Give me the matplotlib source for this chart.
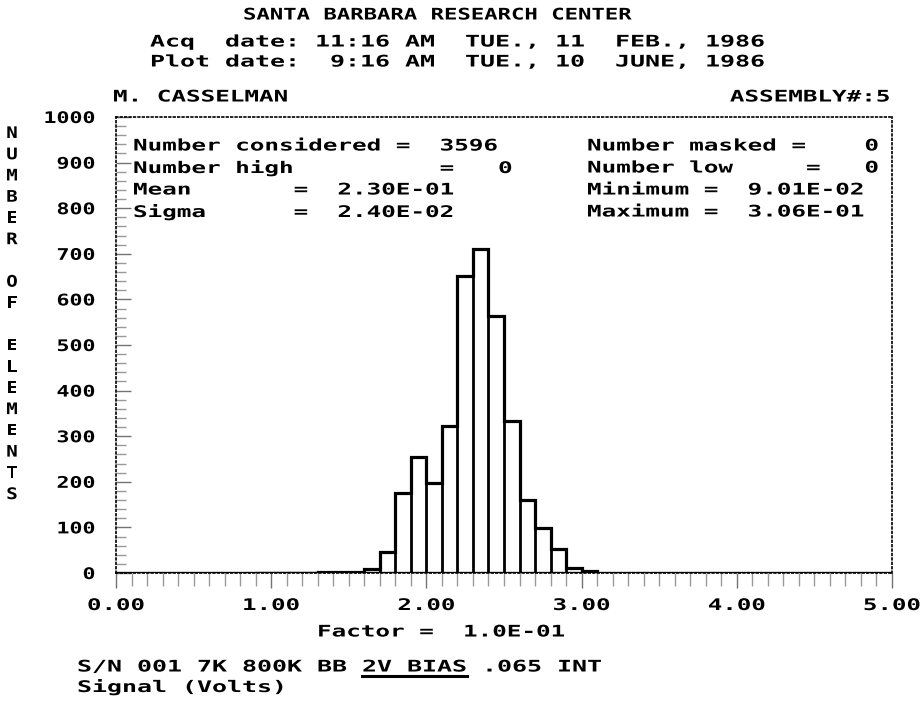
"""
SBRC detector histogram - number of elements vs signal
"""
import numpy as np
import matplotlib
matplotlib.use('Agg')
import matplotlib.pyplot as plt
from matplotlib.lines import Line2D
from matplotlib.patheffects import AbstractPathEffect
from matplotlib.transforms import Affine2D

# ---- data ----
bin_edges = np.round(np.arange(0.9, 3.15, 0.1), 1)          # factor units (x 0.1 V)
counts = [1, 1, 1, 1, 2, 2, 3, 8,                             # 0.9 .. 1.6
          45, 175, 254, 197, 322, 652, 710, 563,             # 1.7 .. 2.4
          333, 160, 98, 52, 12, 4]                           # 2.5 .. 3.0

x_ticks = [0.0, 1.0, 2.0, 3.0, 4.0, 5.0]
y_ticks = [0, 100, 200, 300, 400, 500, 600, 700, 800, 900, 1000]
y_ticklabels = ['0', '100', '200', '300', '400', '500', '600', '700', '800', '900', '1000']

title_lines = ['SANTA BARBARA RESEARCH CENTER',
               'Acq  date: 11:16 AM  TUE., 11  FEB., 1986',
               'Plot date:  9:16 AM  TUE., 10  JUNE, 1986']
stats_left = ['Number considered =  3596',
              'Number high          =   0',
              'Mean       =  2.30E-01',
              'Sigma      =  2.40E-02']
stats_right = ['Number masked =    0',
               'Number low     =   0',
               'Minimum =  9.01E-02',
               'Maximum =  3.06E-01']
ylabel_letters = 'NUMBER OF ELEMENTS'
sn_line = 'S/N 001 7K 800K BB 2V BIAS .065 INT'

W, H = 922, 704
FS = 11.5
EM = FS * 100 / 72
ADV = 0.602 * EM   # DejaVu Sans Mono advance


class Stretch(AbstractPathEffect):
    """widen glyphs horizontally, like the old plotter font"""
    def __init__(self, sx, anchor='left'):
        super().__init__()
        self.sx = sx
        self.anchor = anchor

    def draw_path(self, renderer, gc, tpath, affine, rgbFace=None):
        ext = tpath.get_extents()
        pivot = {'left': 0.0, 'center': (ext.x0 + ext.x1) / 2, 'right': ext.x1}[self.anchor]
        st = Affine2D().translate(-pivot, 0).scale(self.sx, 1).translate(pivot, 0)
        renderer.draw_path(gc, tpath, st + affine, rgbFace)


plt.rcParams['font.family'] = ['DejaVu Sans Mono']
plt.rcParams['font.weight'] = 'bold'

fig = plt.figure(figsize=(W / 100, H / 100), dpi=100)


def put(x, y, s, pitch=14.6, ha='left', size=FS, **kw):
    t = fig.text(x / W, 1 - y / H, s, ha=ha, va='center', fontsize=size, **kw)
    t.set_path_effects([Stretch(pitch / (0.602 * size * 100 / 72), ha)])
    return t


ax = fig.add_axes([116 / W, 1 - 573 / H, (892 - 116) / W, (573 - 117) / H])

# histogram outline
ax.stairs(counts, bin_edges, baseline=0, color='black', lw=2.3, fill=False)
ax.vlines(bin_edges[1:-1], 0, np.minimum(counts[:-1], counts[1:]), colors='black', lw=2.0)
ax.axhline(0, color='black', lw=2.4)

ax.set_xlim(0, 5)
ax.set_ylim(0, 1000)

for sp in ax.spines.values():
    sp.set_linestyle(':')
    sp.set_linewidth(1.2)

ax.set_xticks(x_ticks)
ax.set_xticklabels(['%.2f' % v for v in x_ticks])
ax.set_xticks(np.arange(0, 5.01, 0.1), minor=True)
ax.set_yticks(y_ticks)
ax.set_yticklabels(y_ticklabels)
ax.set_yticks(np.arange(0, 1001, 20), minor=True)

ax.tick_params(axis='x', which='major', direction='out', length=11, width=1.0,
               color='0.45', pad=7, labelsize=FS)
ax.tick_params(axis='x', which='minor', direction='out', length=9, width=1.0, color='0.6')
ax.tick_params(axis='y', which='major', direction='in', length=11, width=1.0,
               color='0.45', pad=15, labelsize=FS)
ax.tick_params(axis='y', which='minor', direction='in', length=7, width=1.0, color='0.6')

for lab in ax.get_xticklabels():
    lab.set_path_effects([Stretch(14.5 / ADV, 'center')])
for lab in ax.get_yticklabels():
    lab.set_path_effects([Stretch(13.0 / ADV, 'right')])

# header
put(243, 15, title_lines[0], pitch=13.4)
put(150, 42, title_lines[1], pitch=15.0)
put(150, 62, title_lines[2], pitch=15.0)
put(113, 97, 'M. CASSELMAN')
put(890, 97, 'ASSEMBLY#:5', ha='right')

# statistics block
for i, (sl, sr) in enumerate(zip(stats_left, stats_right)):
    yy = 146 + 22 * i
    put(133, yy, sl)
    put(587, yy, sr)

# vertical axis title, one letter per line
vt = fig.text(12 / W, 1 - 126 / H, '\n'.join(ylabel_letters), ha='center', va='top',
              fontsize=FS, linespacing=1.52)
vt.set_path_effects([Stretch(1.2, 'center')])

# bottom notes
put(317, 632, 'Factor =  1.0E-01')
put(77, 667, sn_line, pitch=15.0)
put(77, 687, 'Signal (Volts)', pitch=15.0)
u0 = 77 + sn_line.index('2V') * 15.0
fig.add_artist(Line2D([u0 / W, (u0 + 7 * 15.0) / W], [1 - 676 / H] * 2,
                      color='black', lw=2.2, transform=fig.transFigure))

fig.savefig('out.png', dpi=100)
